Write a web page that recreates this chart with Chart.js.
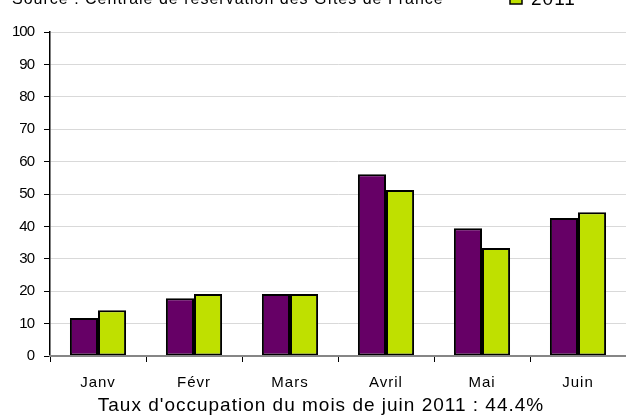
<!DOCTYPE html>
<html lang="fr">
  <head>
    <meta charset="UTF-8" />
    <title>Taux d'occupation</title>
    <script src="https://cdn.jsdelivr.net/npm/chart.js@4"></script>
    <style>
      html, body { margin: 0; padding: 0; background: #fff; }
      #wrap { width: 626px; height: 416px; }
    </style>
  </head>
  <body>
    <div id="wrap"><canvas id="occChart" width="626" height="416"></canvas></div>
    <script>
      var months = ["Janv", "Févr", "Mars", "Avril", "Mai", "Juin"];
      var series2010 = [11.7, 17.8, 19.1, 56.1, 39.4, 42.6];
      var series2011 = [14.1, 19.1, 19.1, 51.2, 33.3, 44.4];
      var seriesLabels = ["2010", "2011"];
      var sourceText = "Source : Centrale de réservation des Gîtes de France";
      var footerText = "Taux d'occupation du mois de juin 2011 : 44.4%";

      var fontFamily = "Arial, 'Liberation Sans', sans-serif";

      // the original text is set wide, numbers narrow: tweak letter spacing per layer
      var spacingPlugin = {
        id: "spacing",
        beforeDraw: function (chart) {
          chart.ctx.letterSpacing = "-1px";
        },
        afterDatasetsDraw: function (chart) {
          chart.ctx.letterSpacing = "1px";
        },
      };

      // header (source line + legend, clipped at the top) and footer line
      var textPlugin = {
        id: "texts",
        afterDraw: function (chart) {
          var ctx = chart.ctx;
          ctx.save();
          ctx.letterSpacing = "1px";
          ctx.fillStyle = "#000";
          ctx.textBaseline = "alphabetic";
          ctx.textAlign = "left";
          ctx.font = "16px " + fontFamily;
          ctx.fillText(sourceText, 12, 4);

          var sets = chart.data.datasets;
          ctx.font = "19px " + fontFamily;
          for (var i = 0; i < sets.length; i++) {
            var base = 4 - (sets.length - 1 - i) * 22;
            ctx.fillStyle = sets[i].backgroundColor;
            ctx.fillRect(510, base - 12, 12, 12);
            ctx.strokeStyle = "#000";
            ctx.lineWidth = 1.5;
            ctx.strokeRect(510, base - 12, 12, 12);
            ctx.fillStyle = "#000";
            ctx.fillText(sets[i].label, 531, base + 1);
          }

          ctx.fillStyle = "#000";
          ctx.textAlign = "center";
          ctx.font = "19px " + fontFamily;
          ctx.fillText(footerText, 321, 411);
          ctx.restore();
          ctx.letterSpacing = "0px";
        },
      };

      var ctx = document.getElementById("occChart").getContext("2d");
      var occChart = new Chart(ctx, {
        type: "bar",
        data: {
          labels: months,
          datasets: [
            {
              label: seriesLabels[0],
              data: series2010,
              backgroundColor: "#660066",
              borderColor: "#000",
              borderWidth: 2,
              borderSkipped: false,
            },
            {
              label: seriesLabels[1],
              data: series2011,
              backgroundColor: "#bfe000",
              borderColor: "#000",
              borderWidth: 2,
              borderSkipped: false,
            },
          ],
        },
        options: {
          responsive: false,
          animation: false,
          devicePixelRatio: 1,
          layout: { padding: { top: 32, right: 0, left: 0, bottom: 0 } },
          datasets: { bar: { barPercentage: 1, categoryPercentage: 0.585 } },
          plugins: {
            legend: { display: false },
            tooltip: { enabled: false },
          },
          scales: {
            x: {
              grid: {
                offset: true,
                drawOnChartArea: false,
                drawTicks: true,
                tickLength: 6,
                tickColor: "#000",
                z: 1,
              },
              border: { color: "#868686", width: 2, z: 1 },
              ticks: {
                color: "#000",
                padding: 12,
                z: 1,
                font: { family: fontFamily, size: 15 },
              },
              afterFit: function (scale) {
                scale.height = 60;
              },
            },
            y: {
              min: 0,
              max: 100,
              ticks: {
                stepSize: 10,
                color: "#000",
                padding: 10,
                font: { family: fontFamily, size: 15 },
              },
              grid: {
                color: "#d9d9d9",
                tickColor: "#000",
                tickLength: 6,
              },
              border: { color: "#000", width: 1.5 },
              afterFit: function (scale) {
                scale.width = 50;
              },
            },
          },
        },
        plugins: [spacingPlugin, textPlugin],
      });
    </script>
  </body>
</html>
